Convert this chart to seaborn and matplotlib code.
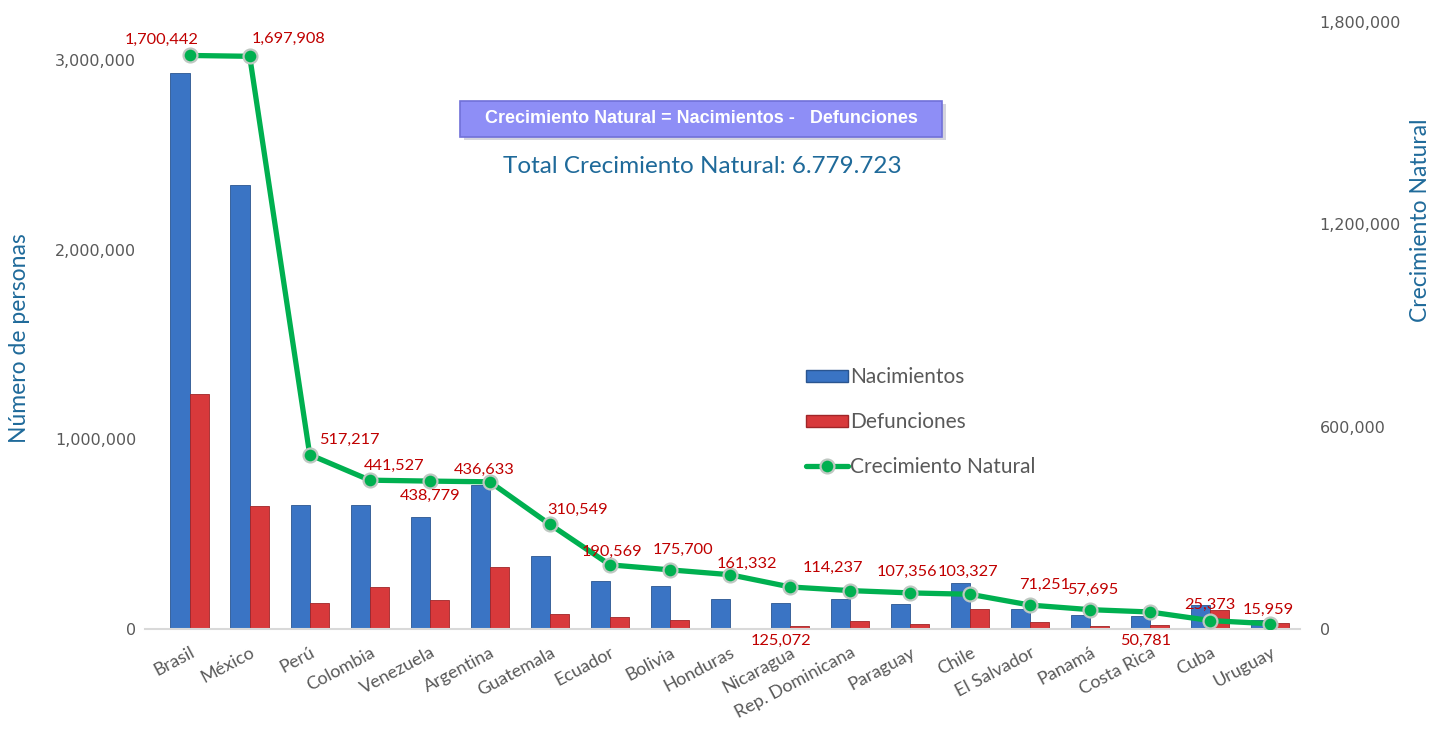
import pandas as pd
import matplotlib.pyplot as plt
import seaborn as sns
import numpy as np
from matplotlib.patches import Patch, FancyBboxPatch
from matplotlib.lines import Line2D
from matplotlib.ticker import FuncFormatter

# === data ===
paises = ["Brasil", "México", "Perú", "Colombia", "Venezuela", "Argentina",
          "Guatemala", "Ecuador", "Bolivia", "Honduras", "Nicaragua",
          "Rep. Dominicana", "Paraguay", "Chile", "El Salvador", "Panamá",
          "Costa Rica", "Cuba", "Uruguay"]
nacimientos = [2930000, 2340000, 653000, 653000, 590000, 758000,
               387000, 252000, 225000, 160000, 140000,
               158000, 132000, 242000, 105000, 74000,
               68000, 126000, 47000]
defunciones = [1237000, 647000, 137000, 221000, 153000, 326000,
               79000, 62000, 47000, 0, 19000,
               42000, 25000, 105000, 37000, 16000,
               21000, 100000, 32000]
crecimiento = [1700442, 1697908, 517217, 441527, 438779, 436633,
               310549, 190569, 175700, 161332, 125072,
               114237, 107356, 103327, 71251, 57695,
               50781, 25373, 15959]
total_texto = "Total Crecimiento Natural: 6.779.723"

# label offsets in pixels (dx, dy) relative to each point
offsets = [(-28, 16), (39, 17), (40, 15), (24, 14), (0, -15), (-6, 12),
           (28, 14), (2, 13), (13, 20), (17, 11), (-9, -54),
           (-17, 23), (-3, 21), (-2, 22), (15, 20), (3, 20),
           (-5, -29), (0, 16), (-2, 14)]

BLUE = "#3A74C4"
RED = "#D8393B"
GREEN = "#00B050"
AXBLUE = "#1F6A9A"
GRAY = "#595959"
LABELRED = "#C00000"

sns.set_theme(style="white")
plt.rcParams["font.family"] = ["Lato", "DejaVu Sans"]

df = pd.DataFrame({"pais": paises, "Nacimientos": nacimientos, "Defunciones": defunciones})
long_df = df.melt(id_vars="pais", var_name="serie", value_name="personas")

fig = plt.figure(figsize=(14.32, 7.29), dpi=100)
ax = fig.add_axes([0.101, 0.137, 0.807, 0.833])

sns.barplot(data=long_df, x="pais", y="personas", hue="serie",
            palette={"Nacimientos": BLUE, "Defunciones": RED},
            width=0.64, gap=0.0, ax=ax, legend=False, saturation=1,
            edgecolor="none", linewidth=0)
for bar, col in zip(ax.patches, [BLUE] * len(paises) + [RED] * len(paises)):
    bar.set_edgecolor("#2A5590" if col == BLUE else "#A02528")
    bar.set_linewidth(0.6)

ax.set_ylim(0, 3.2e6)
ax.set_yticks([0, 1e6, 2e6, 3e6])
ax.yaxis.set_major_formatter(FuncFormatter(lambda v, p: f"{v:,.0f}"))
for t in ax.get_yticklabels():
    t.set_fontfamily("DejaVu Sans")
ax.tick_params(axis="y", labelsize=11.5, labelcolor=GRAY, length=0, pad=6)
ax.set_ylabel("Número de personas", fontsize=16.5, color=AXBLUE)
ax.yaxis.set_label_coords(-0.099, 0.48)
ax.set_xlabel("")

ax2 = ax.twinx()
sns.pointplot(x=paises, y=crecimiento, color=GREEN, ax=ax2,
              markers="o", linestyles="-", errorbar=None)
for ln in ax2.lines:
    ln.set_linewidth(3.8)
    ln.set_markersize(10)
    ln.set_markerfacecolor(GREEN)
    ln.set_markeredgecolor("#BFC8C2")
    ln.set_markeredgewidth(1.6)
for coll in ax2.collections:
    coll.set_sizes([100])
    coll.set_edgecolor("#BFC8C2")
    coll.set_linewidth(1.6)

ax2.set_ylim(0, 1.8e6)
ax2.set_yticks([0, 6e5, 1.2e6, 1.8e6])
ax2.yaxis.set_major_formatter(FuncFormatter(lambda v, p: f"{v:,.0f}"))
for t in ax2.get_yticklabels():
    t.set_fontfamily("DejaVu Sans")
ax2.tick_params(axis="y", labelsize=11.5, labelcolor=GRAY, length=0, pad=14)
ax2.set_ylabel("Crecimiento Natural", fontsize=16.5, color=AXBLUE)
ax2.yaxis.set_label_coords(1.095, 0.674)

for i, (v, (dx, dy)) in enumerate(zip(crecimiento, offsets)):
    ax2.annotate(f"{v:,}", (i, v), xytext=(dx, dy), textcoords="offset pixels",
                 ha="center", va="center", fontsize=11.8, color=LABELRED)

for a in (ax, ax2):
    a.set_xlim(-0.75, 18.5)
    for s in ["top", "left", "right"]:
        a.spines[s].set_visible(False)
    a.grid(False)
ax2.spines["bottom"].set_visible(False)
ax.spines["bottom"].set_color("#D9D9D9")
ax.spines["bottom"].set_linewidth(1.5)

ax.set_xticks(range(len(paises)))
ax.set_xticklabels(paises, rotation=28, ha="right", rotation_mode="anchor",
                   fontsize=13, color=GRAY)
ax.tick_params(axis="x", length=0, pad=11)
ax2.tick_params(axis="x", length=0, labelbottom=False)

# title box and subtitle
fig.patches.append(FancyBboxPatch((0.3240, 0.8080), 0.3366, 0.0494,
                                  boxstyle="square,pad=0", transform=fig.transFigure,
                                  fc="#B8B8C8", ec="none", alpha=0.6, zorder=1))
fig.patches.append(FancyBboxPatch((0.3212, 0.8121), 0.3366, 0.0494,
                                  boxstyle="square,pad=0", transform=fig.transFigure,
                                  fc="#8E8EF6", ec="#7070D8", lw=1.2, zorder=2))
fig.text(0.4895, 0.8368, "Crecimiento Natural = Nacimientos -   Defunciones",
         ha="center", va="center", fontsize=13, fontweight="bold",
         color="white", family=["Liberation Sans", "DejaVu Sans"], zorder=3)
fig.text(0.4905, 0.772, total_texto, ha="center", va="center",
         fontsize=17.5, color=AXBLUE)

handles = [Patch(facecolor=BLUE, edgecolor="#2A5590", label="Nacimientos"),
           Patch(facecolor=RED, edgecolor="#A02528", label="Defunciones"),
           Line2D([0], [0], color=GREEN, lw=3.8, marker="o", markersize=10,
                  markerfacecolor=GREEN, markeredgecolor="#BFC8C2",
                  markeredgewidth=1.6, label="Crecimiento Natural")]
fig.legend(handles=handles, loc="upper left", bbox_to_anchor=(0.550, 0.522),
           frameon=False, fontsize=15, labelcolor=GRAY, labelspacing=1.2,
           handlelength=2.0, handleheight=0.55, handletextpad=0.1)

fig.savefig("out.png", dpi=100)
